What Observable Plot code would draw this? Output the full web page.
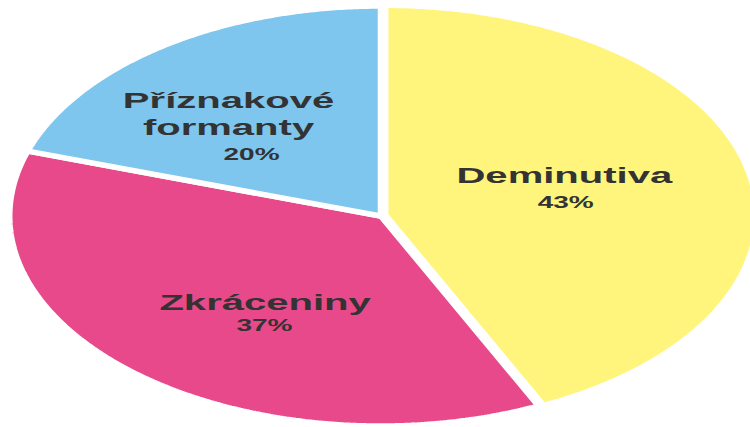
<!DOCTYPE html>
<html><head><meta charset="utf-8">
<script src="https://cdn.jsdelivr.net/npm/d3@7"></script>
<script src="https://cdn.jsdelivr.net/npm/@observablehq/plot@0.6"></script>
<style>html,body{margin:0;padding:0;background:#fff;overflow:hidden}</style>
</head><body><div id="chart"></div>
<script>
const categories = ["Deminutiva", "Zkráceniny", "Příznakové formanty"];
const shares = [43, 37, 20];
const percentLabels = ["43%", "37%", "20%"];
const colors = ["#fff57c", "#e8498a", "#7ec6ee"];

// layout (pixel geometry of the stretched pie)
const W = 750, H = 427, CX = 380, CY = 215.5, RX = 370.75, RY = 210;
const explode = {"Deminutiva": 0.0145};
const labelOffsets = {
  "Deminutiva": {name: [-2, -18], pct: [-1, 10]},
  "Zkráceniny": {name: [7.5, 6], pct: [6.5, 31]},
  "Příznakové formanty": {name: [-43, -18.5], pct: [-20, 23.5]}
};

const data = categories.map((name, i) => ({name, value: shares[i], pct: percentLabels[i]}));
const arcs = d3.pie().sort(null).value(d => d.value)(data);
const poly = [], labels = [];
for (const a of arcs) {
  const mid = (a.startAngle + a.endAngle) / 2;
  const e = explode[a.data.name] || 0;
  const ox = e * Math.sin(mid), oy = e * Math.cos(mid);
  poly.push({name: a.data.name, x: ox, y: oy});
  const n = Math.ceil((a.endAngle - a.startAngle) / (Math.PI / 360));
  for (let k = 0; k <= n; k++) {
    const t = a.startAngle + (a.endAngle - a.startAngle) * k / n;
    poly.push({name: a.data.name, x: ox + Math.sin(t), y: oy + Math.cos(t)});
  }
  poly.push({name: a.data.name, x: ox, y: oy});
  labels.push({name: a.data.name, pct: a.data.pct, x: ox + 0.5 * Math.sin(mid), y: oy + 0.5 * Math.cos(mid)});
}

const textMarks = [];
for (const l of labels) {
  const o = labelOffsets[l.name];
  textMarks.push(Plot.text([l], {x: "x", y: "y", text: "name", dx: o.name[0], dy: o.name[1],
    fontSize: 22, fontWeight: "bold", fill: "#333333", lineWidth: 6, lineHeight: 1.27, textAnchor: "middle"}));
  textMarks.push(Plot.text([l], {x: "x", y: "y", text: "pct", dx: o.pct[0], dy: o.pct[1],
    fontSize: 16, fontWeight: "bold", fill: "#333333", textAnchor: "middle"}));
}

const chart = Plot.plot({
  width: W, height: H, margin: 0,
  style: {fontFamily: "'Liberation Sans', Arial, sans-serif", background: "#fff"},
  x: {domain: [(0 - CX) / RX, (W - CX) / RX], axis: null},
  y: {domain: [(CY - H) / RY, CY / RY], axis: null},
  color: {domain: categories, range: colors},
  marks: [
    Plot.line(poly, {x: "x", y: "y", z: "name", fill: "name", stroke: "white", strokeWidth: 5.5, strokeLinejoin: "miter", curve: "linear"}),
    ...textMarks
  ]
});
document.getElementById("chart").appendChild(chart);

// horizontal stretch of the labels (around each label's own centre), as in the reference
chart.querySelectorAll("g[aria-label=text] text").forEach(t => {
  const s = /%$/.test(t.textContent) ? 1.75 : 1.82;
  const b = t.getBBox();
  const c = b.x + b.width / 2;
  const tr = t.getAttribute("transform") || "";
  t.setAttribute("transform", `${tr} translate(${c},0) scale(${s},1) translate(${-c},0)`);
});
</script>
</body></html>
